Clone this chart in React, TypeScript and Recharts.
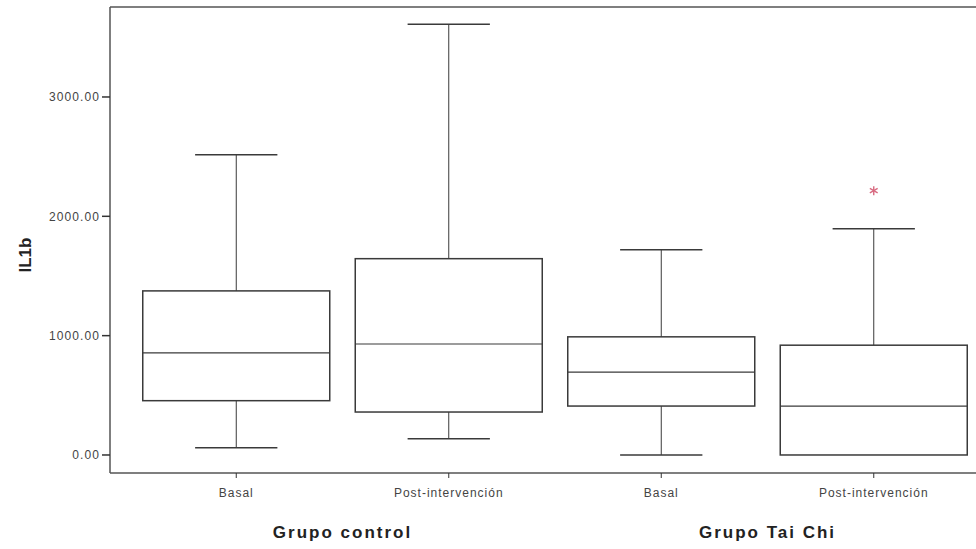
import { ComposedChart, Bar, Scatter, XAxis, YAxis } from 'recharts'

const keys = ['cb', 'cp', 'tb', 'tp']
const tickLabels = ['Basal', 'Post-intervención', 'Basal', 'Post-intervención']
const groups = ['Grupo control', 'Grupo control', 'Grupo Tai Chi', 'Grupo Tai Chi']

const minValues = [60, 135, 0, 0]
const q1Values = [455, 360, 410, 0]
const medianValues = [855, 930, 695, 410]
const q3Values = [1375, 1645, 990, 920]
const maxValues = [2515, 3610, 1720, 1895]

const outlierKeys = ['tp']
const outlierValues = [2215]

const yTicks = [0, 1000, 2000, 3000]

const rows = keys.map((key, i) => ({
  key,
  group: groups[i],
  min: minValues[i],
  q1: q1Values[i],
  median: medianValues[i],
  q3: q3Values[i],
  max: maxValues[i],
}))

const outlierRows = outlierKeys.map((key, i) => ({
  key,
  group: groups[keys.indexOf(key)],
  outlier: outlierValues[i],
}))

const labelOf = (k: string) => tickLabels[keys.indexOf(k)] ?? k

const BOX = '#3a3a3a'
const FONT = '"Liberation Sans", Arial, sans-serif'

function BoxShape(props: any) {
  const { x, y, width, height, payload } = props
  if (!payload) return null
  const top = Math.min(y, y + height)
  const bottom = Math.max(y, y + height)
  const { min, q1, median, q3, max } = payload
  const py = (v: number) => bottom - ((v - min) / (max - min)) * (bottom - top)
  const cx = x + width / 2
  const cap = width * 0.22
  return (
    <g>
      <line x1={cx} x2={cx} y1={py(max)} y2={py(q3)} stroke={BOX} strokeWidth={1} />
      <line x1={cx} x2={cx} y1={py(q1)} y2={py(min)} stroke={BOX} strokeWidth={1} />
      <line x1={cx - cap} x2={cx + cap} y1={py(max)} y2={py(max)} stroke={BOX} strokeWidth={1.5} />
      {min < q1 && (
        <line x1={cx - cap} x2={cx + cap} y1={py(min)} y2={py(min)} stroke={BOX} strokeWidth={1.5} />
      )}
      <rect x={x} y={py(q3)} width={width} height={py(q1) - py(q3)} fill="none" stroke={BOX} strokeWidth={1.5} />
      <line x1={x} x2={x + width} y1={py(median)} y2={py(median)} stroke={BOX} strokeWidth={1.2} />
    </g>
  )
}

function Asterisk(props: any) {
  const { cx, cy } = props
  const r = 4.5
  const c = '#d86a80'
  return (
    <g stroke={c} strokeWidth={1.4}>
      <line x1={cx} x2={cx} y1={cy - r} y2={cy + r} />
      <line x1={cx - r * 0.87} x2={cx + r * 0.87} y1={cy - r / 2} y2={cy + r / 2} />
      <line x1={cx - r * 0.87} x2={cx + r * 0.87} y1={cy + r / 2} y2={cy - r / 2} />
    </g>
  )
}

function YLabel(props: any) {
  const vb = props.viewBox
  if (!vb) return null
  const x = vb.x + 15
  const y = vb.y + vb.height / 2 + 15
  return (
    <text
      x={x}
      y={y}
      transform={`rotate(-90 ${x} ${y})`}
      textAnchor="middle"
      dominantBaseline="central"
      fontFamily={FONT}
      fontWeight="bold"
      fontSize={17}
      fill="#222"
    >
      IL1b
    </text>
  )
}

export default function App() {
  return (
    <div style={{ position: 'fixed', left: 0, top: 0, width: 976, height: 549, overflow: 'hidden', background: '#fff' }}>
      <ComposedChart
        width={1000}
        height={549}
        data={rows}
        margin={{ top: 6, right: 10, bottom: 0, left: 10 }}
        barCategoryGap="6%"
      >
        <XAxis
          dataKey="key"
          type="category"
          allowDuplicatedCategory={false}
          padding={{ left: 20, right: 10 }}
          height={30}
          tickFormatter={labelOf}
          axisLine={{ stroke: '#555', strokeWidth: 1.5 }}
          tickLine={{ stroke: '#333' }}
          tickSize={5}
          tickMargin={10}
          tick={{ fontSize: 12, fill: '#444', fontFamily: FONT, letterSpacing: 1 }}
        />
        <XAxis
          xAxisId="group"
          dataKey="group"
          type="category"
          allowDuplicatedCategory={false}
          padding={{ left: 20, right: 10 }}
          height={46}
          axisLine={false}
          tickLine={false}
          tickSize={0}
          tickMargin={23}
          tick={{ fontSize: 17, fontWeight: 'bold', fill: '#222', fontFamily: FONT, letterSpacing: 2 }}
        />
        <XAxis
          xAxisId="top"
          orientation="top"
          dataKey="key"
          type="category"
          allowDuplicatedCategory={false}
          height={1}
          tick={false}
          tickLine={false}
          axisLine={{ stroke: '#555', strokeWidth: 1.5 }}
        />
        <YAxis
          type="number"
          width={100}
          domain={[-151, 3754]}
          allowDataOverflow
          ticks={yTicks}
          tickFormatter={(v: number) => v.toFixed(2)}
          axisLine={{ stroke: '#555', strokeWidth: 1.5 }}
          tickLine={{ stroke: '#333', strokeWidth: 1.5 }}
          tickSize={8}
          tickMargin={2}
          tick={{ fontSize: 12, fill: '#444', fontFamily: FONT, letterSpacing: 1.1 }}
          label={<YLabel />}
        />
        <Bar
          dataKey={(d: any) => [d.min, d.max]}
          shape={<BoxShape />}
          fill="none"
          isAnimationActive={false}
        />
        <Scatter
          data={outlierRows}
          dataKey="outlier"
          shape={<Asterisk />}
          isAnimationActive={false}
        />
      </ComposedChart>
    </div>
  )
}
